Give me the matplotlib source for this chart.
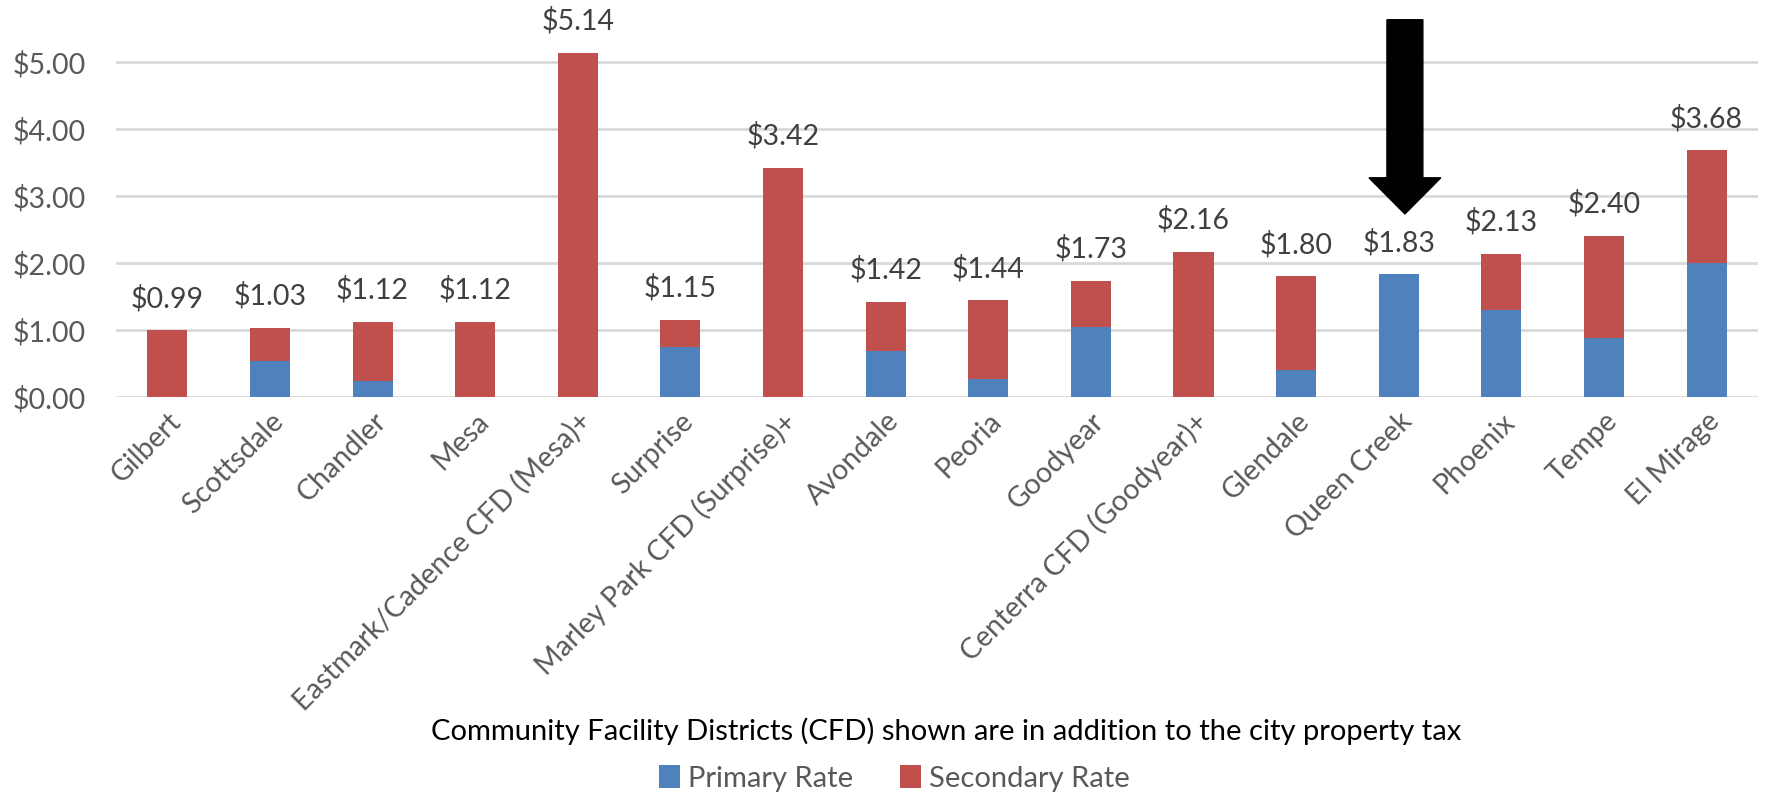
"""Property tax rates by city, with CFD overlays, as stacked bars."""

import matplotlib

matplotlib.use("Agg")

import matplotlib.pyplot as plt
from matplotlib.patches import FancyArrow
import numpy as np

plt.rcParams["font.family"] = ["Lato", "DejaVu Sans"]

CITIES = [
    "Gilbert",
    "Scottsdale",
    "Chandler",
    "Mesa",
    "Eastmark/Cadence CFD (Mesa)+",
    "Surprise",
    "Marley Park CFD (Surprise)+",
    "Avondale",
    "Peoria",
    "Goodyear",
    "Centerra CFD (Goodyear)+",
    "Glendale",
    "Queen Creek",
    "Phoenix",
    "Tempe",
    "El Mirage",
]
TOTAL_RATE = [0.99, 1.03, 1.12, 1.12, 5.14, 1.15, 3.42, 1.42, 1.44, 1.73, 2.16, 1.80, 1.83, 2.13, 2.40, 3.68]
PRIMARY_RATE = [0.00, 0.53, 0.24, 0.00, 0.00, 0.75, 0.00, 0.69, 0.27, 1.04, 0.00, 0.40, 1.83, 1.30, 0.88, 2.00]
Y_TICKS = [0, 1, 2, 3, 4, 5]
HIGHLIGHT = "Queen Creek"

BLUE = "#4F81BD"
RED = "#C0504D"
GRID = "#D9D9D9"
LABEL_GREY = "#595959"
VALUE_GREY = "#404040"

total = np.array(TOTAL_RATE)
primary = np.array(PRIMARY_RATE)
secondary = total - primary
x = np.arange(len(CITIES))

fig = plt.figure(figsize=(17.68, 8.0), dpi=100)
ax = fig.add_axes([0.0656, 0.504, 0.9287, 0.473])

ax.bar(x, primary, width=0.39, color=BLUE, label="Primary Rate", zorder=2)
ax.bar(x, secondary, width=0.39, bottom=primary, color=RED, label="Secondary Rate", zorder=2)

for xi, value in zip(x, total):
    ax.annotate(
        f"${value:.2f}",
        (xi, value),
        xytext=(0, 23),
        textcoords="offset points",
        ha="center",
        va="center",
        fontsize=20.5,
        color=VALUE_GREY,
    )

# big pointer over the highlighted city
qc = CITIES.index(HIGHLIGHT)
tip = total[qc] + 0.90
top = 5.63
ax.add_patch(
    FancyArrow(
        qc + 0.06,
        top,
        0,
        tip - top,
        width=0.35,
        head_width=0.70,
        head_length=0.54,
        length_includes_head=True,
        color="black",
        clip_on=False,
        zorder=5,
    )
)

ax.set_xlim(-0.5, len(CITIES) - 0.5)
ax.set_ylim(0, 5.65)
ax.set_yticks(Y_TICKS)
ax.set_yticklabels([f"${t:.2f}" for t in Y_TICKS], fontsize=20.5, color=LABEL_GREY)
ax.set_xticks(x)
ax.set_xticklabels(
    CITIES, rotation=45, ha="right", rotation_mode="anchor", fontsize=20.5, color=LABEL_GREY
)
ax.tick_params(axis="both", length=0)
ax.tick_params(axis="y", pad=22)
ax.tick_params(axis="x", pad=8)
ax.grid(axis="y", color=GRID, linewidth=2, zorder=0)
ax.set_axisbelow(True)
for spine in ax.spines.values():
    spine.set_visible(False)

fig.text(
    0.535,
    0.086,
    "Community Facility Districts (CFD) shown are in addition to the city property tax",
    ha="center",
    va="center",
    fontsize=21,
    color="black",
)

fig.legend(
    loc="center",
    bbox_to_anchor=(0.506, 0.027),
    ncol=2,
    frameon=False,
    fontsize=21,
    handlelength=0.7,
    handleheight=0.8,
    handletextpad=0.3,
    columnspacing=1.6,
    labelcolor=LABEL_GREY,
)

fig.savefig("out.png", dpi=100)
